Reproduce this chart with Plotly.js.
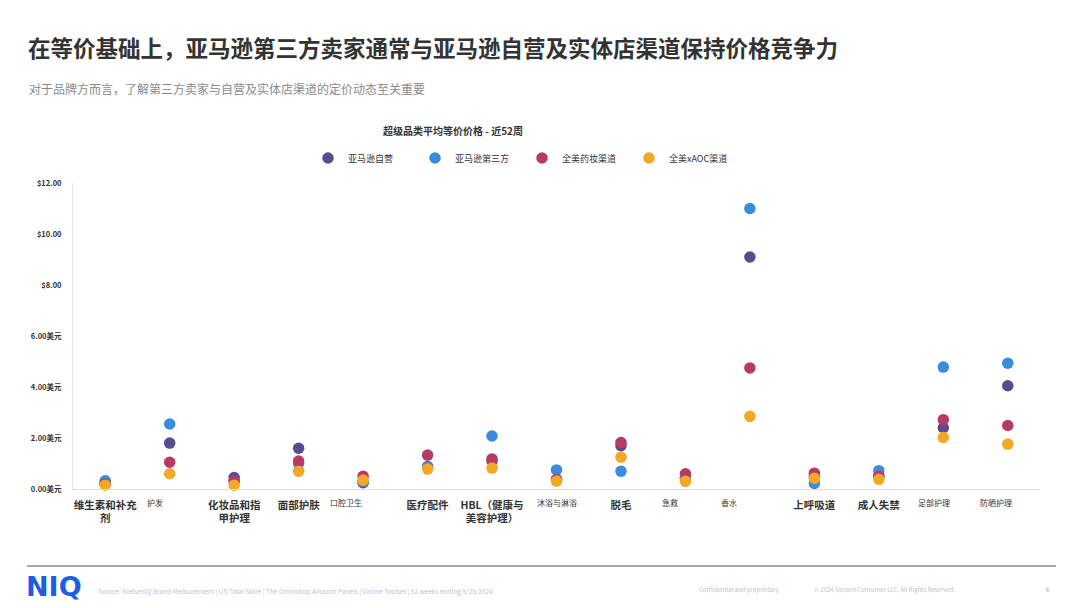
<!DOCTYPE html>
<html>
<head>
<meta charset="utf-8">
<script src="https://cdn.plot.ly/plotly-3.0.1.min.js"></script>
<style>
html,body{margin:0;padding:0;background:#fff;}
#chart{width:1080px;height:608px;}
</style>
</head>
<body>
<div id="chart"></div>
<script>
// ---- data ----
const categories = ["维生素和补充剂","护发","化妆品和指甲护理","面部护肤","口腔卫生","医疗配件","HBL（健康与美容护理）","沐浴与淋浴","脱毛","急救","香水","上呼吸道","成人失禁","足部护理","防晒护理"];
const tickLabels = ["维生素和补充<br>剂","护发","化妆品和指<br>甲护理","面部护肤","口腔卫生","医疗配件","HBL（健康与<br>美容护理）","沐浴与淋浴","脱毛","急救","香水","上呼吸道","成人失禁","足部护理","防晒护理"];
const smallLabel = [false,true,false,false,true,false,false,true,false,true,true,false,false,true,true];
const seriesNames = ["亚马逊自营","亚马逊第三方","全美药妆渠道","全美xAOC渠道"];
const amazon1P   = [0.25,1.80,0.45,1.60,0.25,0.88,1.10,0.35,1.70,0.45,9.10,0.50,0.50,2.40,4.05];
const amazon3P   = [0.32,2.55,0.30,1.00,0.30,0.85,2.08,0.75,0.70,0.40,11.00,0.22,0.72,4.78,4.93];
const drugChannel= [0.20,1.05,0.30,1.10,0.50,1.33,1.18,0.38,1.82,0.60,4.75,0.62,0.50,2.72,2.49];
const xaocChannel= [0.15,0.60,0.15,0.70,0.35,0.78,0.82,0.31,1.25,0.30,2.85,0.42,0.38,2.02,1.76];
const yTickVals = [0,2,4,6,8,10,12];
const yTickText = ["0.00美元","2.00美元","4.00美元","6.00美元","$8.00","$10.00","$12.00"];

// ---- styles ----
const smallLabelShift = [0,-15,0,0,-17,0,0,0,0,-15,-21,0,0,-9,-12];
const colors = ["#5a4b8f","#3a8ddc","#b83a64","#f5a726"];
const W = 1080, H = 608;
const L = 73, R = 1040, T = 183, B = 489;
const px = x => (x - L) / (R - L);
const py = y => (B - y) / (B - T);
const FONT = "'Noto Sans CJK SC','Noto Sans',sans-serif";

const seriesValues = [amazon1P, amazon3P, drugChannel, xaocChannel];
const traces = seriesValues.map((vals, i) => ({
  type: "scatter",
  mode: "markers",
  name: seriesNames[i],
  x: categories,
  y: vals,
  cliponaxis: false,
  marker: {color: colors[i], size: 11.5, line: {width: 0}},
  hoverinfo: "x+y+name"
}));

// large labels as axis tick labels; small ones as annotations on the category axis
const ticktext = tickLabels.map((t, i) => smallLabel[i] ? "" : t);
const smallAnnotations = categories
  .map((c, i) => ({c, i}))
  .filter(o => smallLabel[o.i])
  .map(o => ({
    text: tickLabels[o.i],
    xref: "x", yref: "paper", x: o.c, y: py(502),
    xanchor: "center", yanchor: "middle", xshift: smallLabelShift[o.i],
    showarrow: false, font: {size: 8, color: "#333", family: FONT}
  }));

const layout = {
  width: W, height: H,
  paper_bgcolor: "#fff", plot_bgcolor: "#fff",
  margin: {l: L, r: W - R, t: T, b: H - B, pad: 0},
  font: {family: FONT, color: "#333"},
  showlegend: true,
  title: {
    text: "超级品类平均等价价格 - 近52周",
    font: {size: 10, color: "#333", weight: "bold", family: FONT},
    x: 453 / W, xanchor: "center", xref: "container",
    y: 1 - 131 / H, yanchor: "middle", yref: "container"
  },
  legend: {
    orientation: "h",
    xref: "container", yref: "container",
    x: 308 / W, xanchor: "left",
    y: 1 - 158 / H, yanchor: "middle",
    font: {size: 9, color: "#333", family: FONT},
    entrywidth: 62, entrywidthmode: "pixels",
    itemwidth: 30,
    traceorder: "normal",
    bgcolor: "rgba(0,0,0,0)"
  },
  xaxis: {
    type: "category",
    categoryorder: "array", categoryarray: categories,
    range: [-0.5, categories.length - 0.5],
    tickvals: categories, ticktext: ticktext,
    tickangle: 0,
    tickfont: {size: 10.5, color: "#333", weight: "bold", family: FONT},
    showgrid: false, zeroline: false,
    showline: true, linecolor: "#dcdcdc", linewidth: 1,
    ticks: "", ticklabelstandoff: 6,
    fixedrange: true
  },
  yaxis: {
    range: [0, 12],
    tickvals: yTickVals, ticktext: yTickText,
    tickfont: {size: 7.5, color: "#333", weight: "bold", family: FONT},
    showgrid: false, zeroline: false,
    showline: true, linecolor: "#e6e6e6", linewidth: 1,
    ticks: "", ticklabelstandoff: 9,
    fixedrange: true
  },
  shapes: [
    {type: "line", xref: "paper", yref: "paper",
     x0: px(27), x1: px(1056), y0: py(566), y1: py(566),
     line: {color: "#a8a8a8", width: 2}}
  ],
  annotations: smallAnnotations.concat([
    {text: "在等价基础上，亚马逊第三方卖家通常与亚马逊自营及实体店渠道保持价格竞争力",
     xref: "paper", yref: "paper", x: px(26), y: py(47), xanchor: "left", yanchor: "middle",
     showarrow: false, font: {size: 22.5, color: "#333", weight: "bold", family: FONT}},
    {text: "对于品牌方而言，了解第三方卖家与自营及实体店渠道的定价动态至关重要",
     xref: "paper", yref: "paper", x: px(27), y: py(88), xanchor: "left", yanchor: "middle",
     showarrow: false, font: {size: 12, color: "#8a8a8a", family: FONT}},
    {text: "NIQ",
     xref: "paper", yref: "paper", x: px(24), y: py(586), xanchor: "left", yanchor: "middle",
     showarrow: false, font: {size: 27, color: "#1d5fe3", weight: "bold", family: "'DejaVu Sans',sans-serif"}},
    {text: "Source: NielsenIQ Brand Measurement | US Total Store | The Omnishop Amazon Panels | Online Toolset | 52 weeks ending 5/25/2024",
     xref: "paper", yref: "paper", x: px(96), y: py(591), xanchor: "left", yanchor: "middle",
     showarrow: false, font: {size: 6.5, color: "#c4c4c4", family: FONT}},
    {text: "Confidential and proprietary",
     xref: "paper", yref: "paper", x: px(697), y: py(589), xanchor: "left", yanchor: "middle",
     showarrow: false, font: {size: 6, color: "#c4c4c4", family: FONT}},
    {text: "© 2024 Nielsen Consumer LLC. All Rights Reserved.",
     xref: "paper", yref: "paper", x: px(812), y: py(589), xanchor: "left", yanchor: "middle",
     showarrow: false, font: {size: 6, color: "#c4c4c4", family: FONT}},
    {text: "6",
     xref: "paper", yref: "paper", x: px(1052), y: py(589), xanchor: "right", yanchor: "middle",
     showarrow: false, font: {size: 6, color: "#b0b0b0", family: FONT}}
  ])
};

Plotly.newPlot("chart", traces, layout, {displayModeBar: false});
</script>
</body>
</html>
